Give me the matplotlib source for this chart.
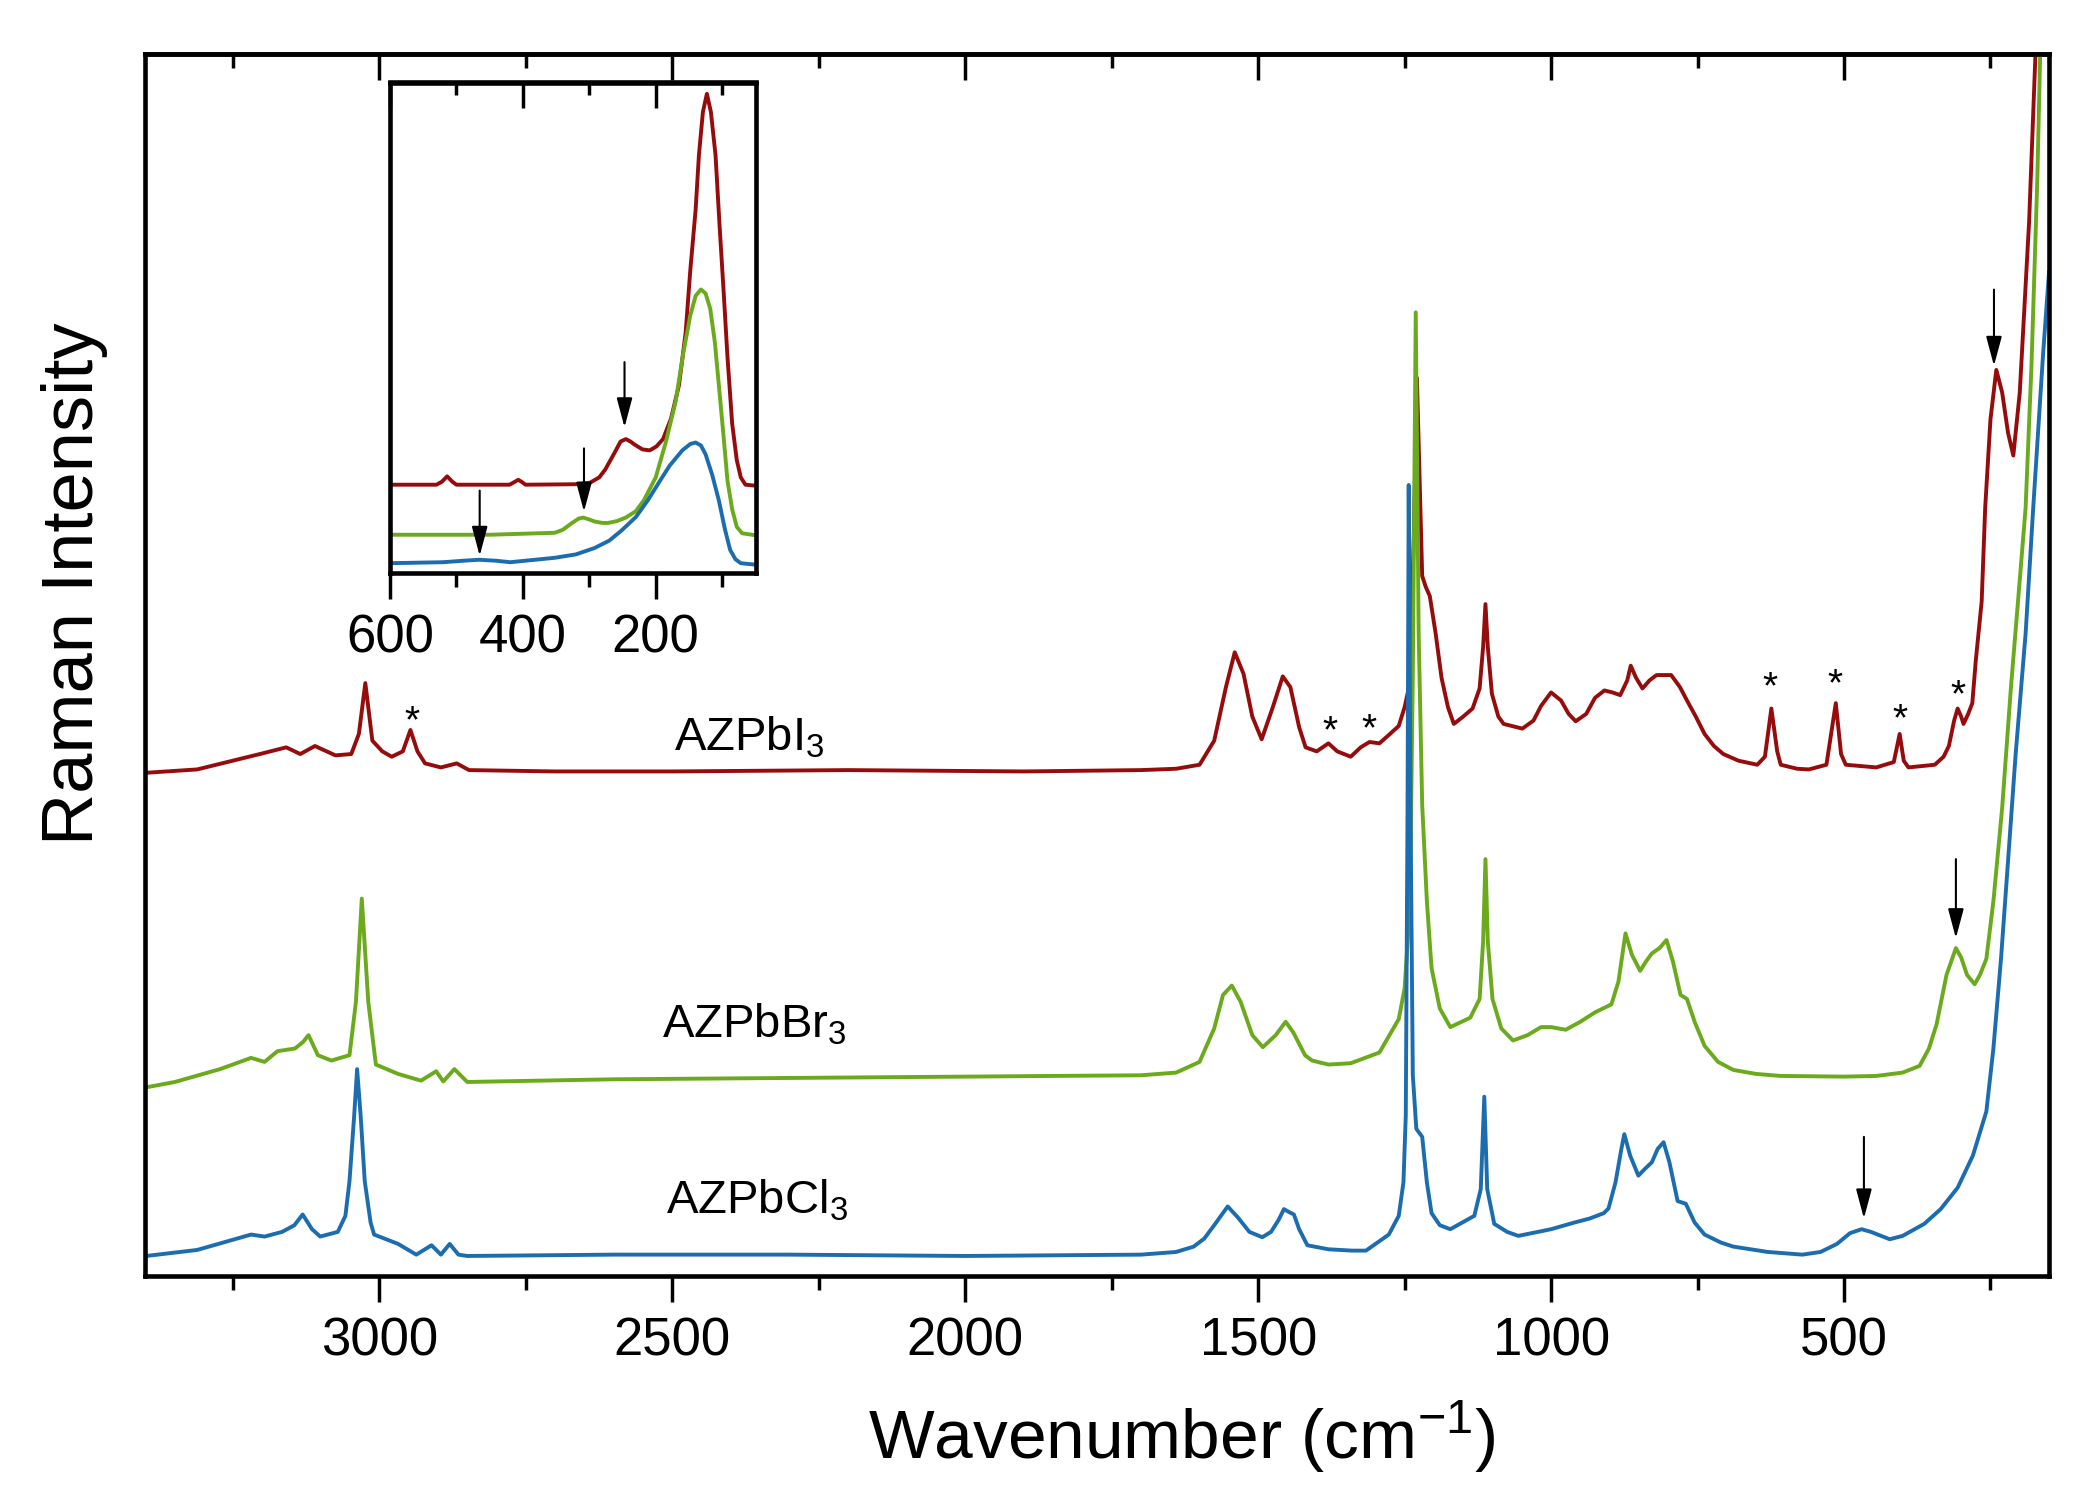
import numpy as np
import matplotlib
matplotlib.use("Agg")
import matplotlib.pyplot as plt
from matplotlib.ticker import MultipleLocator, NullFormatter, NullLocator

plt.rcParams['font.family'] = ['Liberation Sans', 'DejaVu Sans']
plt.rcParams['mathtext.fontset'] = 'custom'
plt.rcParams['mathtext.rm'] = 'Liberation Sans'
plt.rcParams['mathtext.default'] = 'regular'

# ---- main spectra (wavenumber in cm-1, intensity in arbitrary units, offset stacked) ----
red_wn = [3398, 3311, 3204, 3159, 3135, 3110, 3075, 3048, 3035, 3024, 3012, 2995, 2979, 2960, 2947, 2935,
          2922, 2895, 2868, 2847, 2700, 2500, 2200, 1900, 1700, 1640, 1600, 1575, 1555, 1540, 1525, 1510,
          1494, 1475, 1458, 1445, 1430, 1419, 1400, 1380, 1365, 1342, 1325, 1310, 1293, 1275, 1260, 1250,
          1241, 1234, 1229, 1224, 1220, 1214, 1207, 1197, 1187, 1176, 1166, 1150, 1134, 1122, 1116, 1112,
          1108, 1101, 1090, 1081, 1049, 1030, 1017, 1000, 983, 970, 958, 940, 925, 909, 895, 882,
          870, 864, 855, 844, 832, 820, 795, 780, 768, 753, 738, 722, 706, 680, 648, 635,
          624, 614, 608, 580, 560, 530, 514, 505, 497, 445, 415, 405, 398, 390, 345, 330,
          321, 312, 306, 300, 296, 288, 281, 275, 265, 259, 250, 240, 230, 220, 211, 200,
          190, 184, 173, 160]
red_int = [376, 378.5, 390, 395, 390, 396, 389, 390, 405, 443, 400, 392, 388, 392, 408, 392,
           383, 380, 383, 378, 377, 377, 378, 377, 378, 379, 382, 400, 440, 466, 450, 418,
           401, 425, 448, 440, 410, 395, 392, 398, 392, 388, 395, 399, 398, 405, 411, 425,
           443, 560, 671, 590, 523, 515, 508, 480, 447, 425, 412.5, 418, 424, 439, 470, 502,
           470, 435, 418, 412.5, 409, 415, 426, 436, 430, 420, 414.5, 420, 432, 437.5, 436, 434,
           445, 456, 447, 439, 445, 449, 449, 440, 430, 418, 405, 396, 390, 385, 382, 388,
           424, 392, 382, 379, 378.5, 382, 428, 390, 382, 380, 384, 405, 385, 380, 382, 388,
           396, 415, 424, 418, 412.5, 420, 428, 460, 504, 574, 640, 677, 660, 630, 613, 660,
           740, 788, 915, 1020]

green_wn = [3398, 3349, 3272, 3219, 3196, 3174, 3144, 3130, 3121, 3105, 3082, 3051, 3040, 3030, 3019, 3006,
            2968, 2929, 2903, 2891, 2872, 2850, 2600, 2300, 2000, 1700, 1640, 1600, 1575, 1560, 1545, 1530,
            1510, 1492, 1470, 1453, 1440, 1420, 1408, 1380, 1342, 1293, 1260, 1250, 1241, 1236, 1231, 1226,
            1220, 1212, 1204, 1190, 1172, 1138, 1122, 1116, 1112, 1108, 1100, 1085, 1065, 1040, 1017, 1000,
            975, 950, 925, 897, 885, 873, 862, 848, 838, 828, 815, 803, 792, 779, 768, 755,
            738, 715, 689, 650, 608, 500, 445, 400, 371, 355, 342, 325, 309, 300, 290, 277,
            268, 257, 245, 230, 215, 200, 190, 180, 170, 165, 155]
green_int = [141, 145, 154.6, 163, 160, 168, 170, 175, 180, 165, 161, 165, 205, 282, 205, 158,
             151, 146, 153, 145.4, 154.6, 145, 147, 148, 149, 150, 152, 160, 185, 210, 217, 205,
             180, 171, 180, 190, 182, 165, 161, 158, 159, 167, 192, 215, 275.5, 450, 720, 480,
             352, 280, 230, 200, 186, 193, 207, 250, 311.5, 250, 207, 185, 176, 180, 186, 186,
             184, 190, 197, 203, 220, 256, 240, 228, 235, 241, 245, 251, 235, 210, 207, 190,
             172, 160, 154, 151, 149.5, 149, 149.5, 152, 157, 170, 188, 225, 245, 238, 225, 218,
             225, 237, 280, 350, 440, 520, 574, 680, 820, 915, 1040]

blue_wn = [3398, 3311, 3219, 3196, 3166, 3145, 3131, 3115, 3101, 3071, 3058, 3051, 3043, 3038, 3032, 3025,
           3015, 3009, 2968, 2937, 2911, 2895, 2880, 2865, 2850, 2600, 2300, 2000, 1700, 1640, 1610, 1592,
           1575, 1552, 1535, 1515, 1493, 1478, 1465, 1456, 1448, 1439, 1430, 1416, 1380, 1340, 1316, 1277,
           1260, 1252, 1248, 1245, 1243, 1240, 1236, 1230, 1220, 1212, 1204, 1190, 1172, 1131, 1120, 1114,
           1109, 1097, 1075, 1056, 1000, 960, 934, 910, 902, 890, 880, 875, 865, 851, 840, 828,
           818, 808, 798, 784, 770, 755, 738, 710, 689, 630, 571, 540, 512, 490, 470, 454,
           422, 400, 363, 335, 306, 280, 257, 245, 232, 220, 207, 190, 177, 160, 150]
blue_int = [15, 19.5, 31, 29.5, 33, 38, 46, 35, 29.5, 33, 45, 71, 120, 154.6, 120, 71,
            40, 31, 24, 16, 23, 16, 24, 16, 15, 16, 16, 15, 16, 18, 22, 28,
            38, 52, 44, 33, 29, 33, 42, 50, 48, 46, 35, 23, 20, 19, 19, 31,
            45, 70, 120, 350, 591, 350, 150, 110, 104, 70, 47, 38, 35, 45, 65, 134,
            65, 39, 33, 30, 35, 40, 43, 47, 50.5, 70, 95, 106, 90, 75, 80, 85,
            95, 100, 85, 56, 54, 40, 31, 25, 22, 18, 16, 18, 24, 32, 35, 33,
            27.5, 30, 39, 50, 66, 90, 123, 170, 237, 310, 390, 480, 574, 690, 750]

# ---- inset spectra (low-wavenumber region) ----
ins_red_wn = [600, 530, 522, 514, 506, 500, 420, 412, 407, 402, 396, 320, 299, 285, 276, 262,
              253, 245, 238, 232, 220, 209, 199, 189, 177, 165, 155, 148, 140, 135, 129, 123,
              117, 110, 104, 98, 92, 85, 78, 72, 65, 50]
ins_red_int = [18, 18, 18.6, 19.7, 18.6, 18, 18, 18.6, 19, 18.6, 18, 18.1, 18.4, 19.5, 21.1, 24.5,
               26.8, 27.3, 26.8, 26.2, 25.2, 25.0, 25.8, 27.3, 31.5, 38.3, 49, 61.7, 74, 85.2, 94, 97.7,
               94, 85.2, 71, 57.8, 44, 30.5, 23, 19.5, 18, 17.8]

ins_green_wn = [600, 450, 352, 340, 326, 316, 309, 300, 292, 280, 272, 258, 245, 230, 218, 200,
                185, 170, 159, 148, 140, 132, 125, 118, 111, 105, 98, 92, 85, 78, 70, 50]
ins_green_int = [7.8, 7.8, 8.2, 8.8, 10.2, 11.1, 11.3, 10.9, 10.5, 10.2, 10.2, 10.6, 11.3, 12.6, 14.8, 19.5,
                 26.6, 35, 44.5, 52.5, 56.5, 57.8, 57, 53.9, 47, 38.3, 28, 18.8, 13, 9.4, 8.1, 7.7]

ins_blue_wn = [600, 520, 490, 466, 440, 419, 352, 320, 292, 270, 252, 230, 212, 195, 179, 160,
               148, 140, 132, 125, 115, 105, 96, 88, 80, 72, 50]
ins_blue_int = [2.0, 2.2, 2.5, 2.7, 2.5, 2.2, 3.1, 3.8, 5.1, 6.6, 8.6, 11.4, 14.8, 18.5, 21.9, 25.0,
                26.3, 26.6, 26.0, 24.2, 20.0, 14.8, 9.0, 4.7, 2.8, 2.0, 1.7]

sample_names = ['AZPbI$_3$', 'AZPbBr$_3$', 'AZPbCl$_3$']
sample_colors = ['#960c0c', '#6aaa1c', '#1c6cb0']

# marked bands: asterisks (AZPbI3) and arrows
star_wn = [2945, 1378, 1311, 626, 516, 405, 306]
star_y = [421, 413, 415, 446, 448, 422, 440]
arrow_wn = [244, 309, 466]
arrow_top = [737, 311.5, 104]
arrow_tip = [680, 252.4, 43]
ins_arrow_wn = [247, 308, 465]
ins_arrow_top = [43, 25.4, 16.8]
ins_arrow_tip = [29.7, 12.5, 3.5]

fig = plt.figure(figsize=(20.99, 15), dpi=100)
ax = fig.add_axes([0.0691, 0.1493, 0.9071, 0.8147])

lw = 2.8
ax.plot(red_wn, red_int, color=sample_colors[0], lw=lw)
ax.plot(green_wn, green_int, color=sample_colors[1], lw=lw)
ax.plot(blue_wn, blue_int, color=sample_colors[2], lw=lw)

ax.set_xlim(3400, 150)
ax.set_ylim(0, 913)
ax.yaxis.set_major_locator(NullLocator())
ax.xaxis.set_major_locator(MultipleLocator(500))
ax.xaxis.set_minor_locator(MultipleLocator(250))
ax.tick_params(axis='x', which='major', direction='out', length=19, width=2.5,
               labelsize=38, pad=10)
ax.tick_params(axis='x', which='minor', direction='out', length=10, width=2.5)
for s in ax.spines.values():
    s.set_linewidth(3.3)

top = ax.secondary_xaxis('top')
top.xaxis.set_major_locator(MultipleLocator(500))
top.xaxis.set_minor_locator(MultipleLocator(250))
top.xaxis.set_major_formatter(NullFormatter())
top.tick_params(axis='x', which='major', direction='in', length=19, width=2.5)
top.tick_params(axis='x', which='minor', direction='in', length=10, width=2.5)
top.spines['top'].set_linewidth(3.3)

label_pos = [(2497, 393), (2518, 178), (2511, 47)]
for name, (x, y) in zip(sample_names, label_pos):
    ax.text(x, y, name, fontsize=34, ha='left', va='baseline')

for x, y in zip(star_wn, star_y):
    ax.text(x, y - 7, '*', fontsize=28, ha='center', va='center')

arrow_kw = dict(arrowstyle='-|>,head_length=0.6,head_width=0.16', color='black',
                lw=1.5, shrinkA=0, shrinkB=0, mutation_scale=30)
for x, y0, y1 in zip(arrow_wn, arrow_top, arrow_tip):
    ax.annotate('', xy=(x, y1), xytext=(x, y0), arrowprops=arrow_kw)

fig.text(0.5627, 0.0273, 'Wavenumber (cm$^{-1}$)', fontsize=50, ha='center', va='baseline')
fig.text(0.0353, 0.611, 'Raman Intensity', fontsize=52, rotation=90, ha='center', va='center')

# ---- inset ----
ins = fig.add_axes([0.1858, 0.618, 0.1744, 0.327])
ins.plot(ins_red_wn, ins_red_int, color=sample_colors[0], lw=lw)
ins.plot(ins_green_wn, ins_green_int, color=sample_colors[1], lw=lw)
ins.plot(ins_blue_wn, ins_blue_int, color=sample_colors[2], lw=lw)
ins.set_xlim(600, 49)
ins.set_ylim(0, 100)
ins.yaxis.set_major_locator(NullLocator())
ins.xaxis.set_major_locator(MultipleLocator(200))
ins.xaxis.set_minor_locator(MultipleLocator(100))
ins.tick_params(axis='x', which='major', direction='out', length=19, width=2.5,
                labelsize=38, pad=10)
ins.tick_params(axis='x', which='minor', direction='out', length=10, width=2.5)
for s in ins.spines.values():
    s.set_linewidth(3.3)
itop = ins.secondary_xaxis('top')
itop.xaxis.set_major_locator(MultipleLocator(200))
itop.xaxis.set_minor_locator(MultipleLocator(100))
itop.xaxis.set_major_formatter(NullFormatter())
itop.tick_params(axis='x', which='major', direction='in', length=19, width=2.5)
itop.tick_params(axis='x', which='minor', direction='in', length=9, width=2.5)
itop.spines['top'].set_linewidth(3.3)

for x, y0, y1 in zip(ins_arrow_wn, ins_arrow_top, ins_arrow_tip):
    ins.annotate('', xy=(x, y1), xytext=(x, y0), arrowprops=arrow_kw)

fig.savefig('out.png', dpi=100)
